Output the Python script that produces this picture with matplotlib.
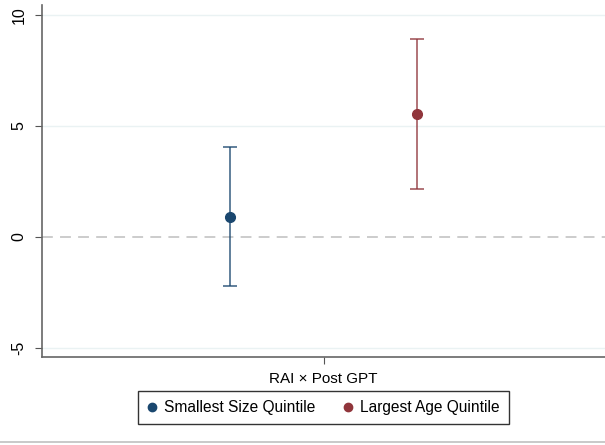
import numpy as np
import matplotlib.pyplot as plt
from matplotlib.lines import Line2D

plt.rcParams['font.family'] = ['Liberation Sans', 'DejaVu Sans']

# coefficient estimates with 95% CI
labels = ['Smallest Size Quintile', 'Largest Age Quintile']
coefs = [0.91, 5.54]
ci_lo = [-2.19, 2.16]
ci_hi = [4.07, 8.92]
offsets = [-1, 1]
colors = ['#1a476f', '#90353b']
yticks = [-5, 0, 5, 10]
xlabel = 'RAI × Post GPT'

fig = plt.figure(figsize=(6.05, 4.45), dpi=100)
ax = fig.add_axes([42/605, 1-356.5/445, 1-42/605, 351.5/445])

for y in yticks:
    if y != 0:
        ax.axhline(y, color='#eaf2f3', lw=1, zorder=0)
ax.axhline(0, color='#c8c8c8', lw=1.3, ls=(0, (6, 4)), zorder=1)

handles = []
for x, c, lo, hi, col, lab in zip(offsets, coefs, ci_lo, ci_hi, colors, labels):
    ax.errorbar([x], [c], yerr=[[c-lo], [hi-c]], fmt='none', ecolor=col, elinewidth=1.3,
                capsize=5, capthick=1.3, alpha=0.75, zorder=2)
    ax.plot([x], [c], 'o', color=col, ms=7, zorder=3)
    handles.append(Line2D([], [], marker='o', ls='none', color=col, ms=6, label=lab))

ax.set_xlim(-3, 3)
ax.set_ylim(-5.38, 10.45)
ax.set_yticks(yticks)
ax.set_yticklabels([str(v) for v in yticks], rotation=90, va='center', fontsize=11.5)
ax.set_xticks([0])
ax.set_xticklabels([xlabel], fontsize=11)
ax.tick_params(axis='both', length=5, color='#555555', pad=6)
for s in ['top', 'right']:
    ax.spines[s].set_visible(False)
for s in ['left', 'bottom']:
    ax.spines[s].set_color('#666666')
    ax.spines[s].set_linewidth(1.2)

leg = fig.legend(handles=handles, loc='center', bbox_to_anchor=(323.5/605, 1-407.5/445),
                 ncol=2, frameon=True, fancybox=False, fontsize=11.2, handletextpad=0.5,
                 columnspacing=1.75, handlelength=0.6, borderpad=0.6, borderaxespad=0)
leg.get_frame().set_edgecolor('black')
leg.get_frame().set_linewidth(1.0)

fig.add_artist(Line2D([0, 1], [1-441.5/445]*2, color='#c0c0c0', lw=1.2))

fig.savefig('out.png', dpi=100)
